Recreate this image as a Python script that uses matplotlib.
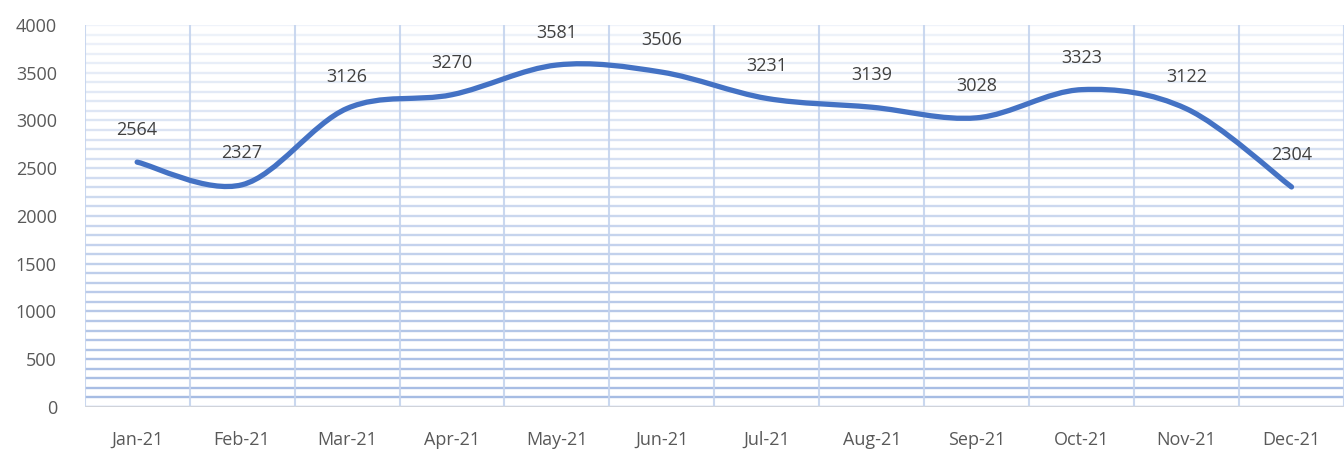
import matplotlib.pyplot as plt
from matplotlib.path import Path
from matplotlib.patches import PathPatch
import numpy as np

months = ['Jan-21', 'Feb-21', 'Mar-21', 'Apr-21', 'May-21', 'Jun-21',
          'Jul-21', 'Aug-21', 'Sep-21', 'Oct-21', 'Nov-21', 'Dec-21']
values = [2564, 2327, 3126, 3270, 3581, 3506, 3231, 3139, 3028, 3323, 3122, 2304]

plt.rcParams['font.family'] = ['Open Sans', 'DejaVu Sans']

fig = plt.figure(figsize=(13.44, 4.51), dpi=100)
ax = fig.add_axes([0.063, 0.0976, 0.937, 0.847])

n = len(months)
x = np.arange(n)
y = np.array(values, dtype=float)

# gradient-like horizontal gridlines every 100
for v in range(0, 4001, 100):
    a = 0.9 - 0.75 * v / 4000
    ax.axhline(v, color='#9AB3E0', lw=1.7, alpha=a, zorder=0)
for b in np.arange(-0.5, n, 1.0):
    ax.axvline(b, color='#C5D4EE', lw=1.5, alpha=0.9, zorder=0)

# smoothed line (catmull-rom style bezier, like excel)
verts = [(x[0], y[0])]
codes = [Path.MOVETO]
for i in range(n - 1):
    p0 = np.array([x[max(i - 1, 0)], y[max(i - 1, 0)]])
    p1 = np.array([x[i], y[i]])
    p2 = np.array([x[i + 1], y[i + 1]])
    p3 = np.array([x[min(i + 2, n - 1)], y[min(i + 2, n - 1)]])
    c1 = p1 + (p2 - p0) / 6
    c2 = p2 - (p3 - p1) / 6
    verts += [tuple(c1), tuple(c2), tuple(p2)]
    codes += [Path.CURVE4] * 3
ax.add_patch(PathPatch(Path(verts, codes), fill=False, edgecolor='#4472C4',
                       lw=3.8, capstyle='round', joinstyle='round', zorder=3))

for xi, yi in zip(x, values):
    ax.annotate(str(yi), (xi, yi), xytext=(0, 23), textcoords='offset points',
                ha='center', va='center', fontsize=13, color='#404040', zorder=4)

ax.set_xlim(-0.5, n - 0.5)
ax.set_ylim(0, 4000)
ax.set_yticks(range(0, 4001, 500))
ax.set_xticks(x)
ax.set_xticklabels(months)
ax.tick_params(axis='both', length=0, labelsize=13, colors='#595959')
ax.tick_params(axis='x', pad=17)
ax.tick_params(axis='y', pad=20)
for s in ax.spines.values():
    s.set_visible(False)
ax.axhline(0, color='#D9D9D9', lw=1.2, zorder=1)

fig.savefig('out.png', dpi=100)
